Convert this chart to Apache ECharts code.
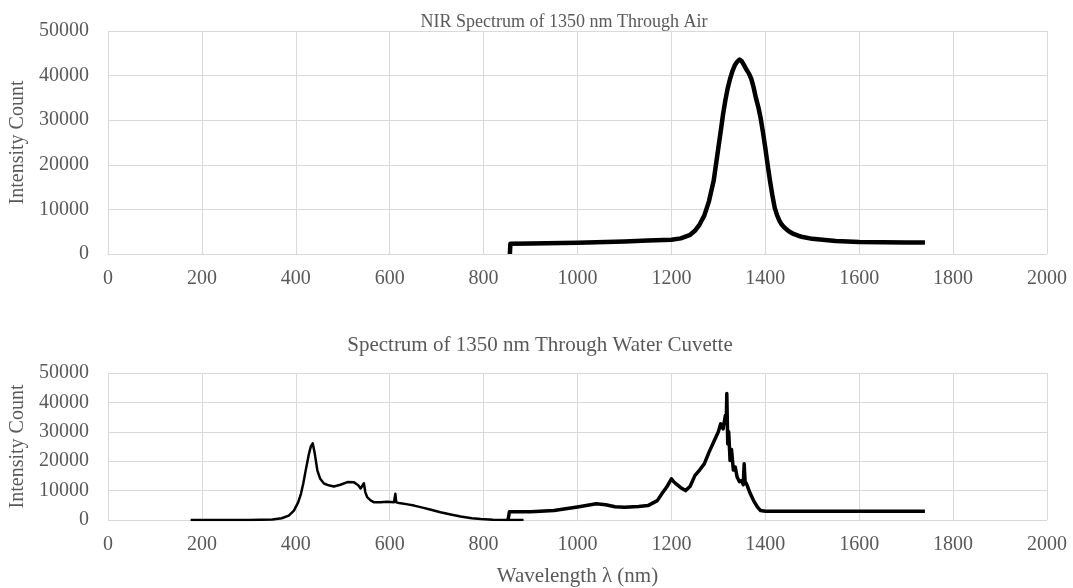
<!DOCTYPE html>
<html>
<head>
<meta charset="utf-8">
<script src="https://cdn.jsdelivr.net/npm/echarts@6/dist/echarts.min.js"></script>
<style>
html,body{margin:0;padding:0;background:#fff;}
#chart{width:1073px;height:588px;}
</style>
</head>
<body>
<div id="chart"></div>
<script>
// Top chart: NIR spectrum through air
var airWavelength = [856, 857, 900, 1000, 1100, 1150, 1200, 1220, 1240, 1250, 1260, 1270, 1280, 1290, 1300, 1305, 1310, 1315, 1320, 1325, 1330, 1335, 1340, 1345, 1350, 1355, 1360, 1365, 1370, 1375, 1380, 1385, 1390, 1395, 1400, 1405, 1410, 1415, 1420, 1425, 1430, 1435, 1440, 1450, 1460, 1470, 1480, 1500, 1550, 1600, 1650, 1700, 1740];
var airIntensity  = [0, 2300, 2350, 2500, 2800, 3000, 3200, 3500, 4300, 5200, 6600, 8600, 11800, 16400, 23800, 27500, 31300, 34500, 37200, 39300, 41000, 42300, 43100, 43600, 43200, 42300, 41300, 40500, 39300, 37400, 35000, 33000, 30500, 27300, 23800, 20000, 16400, 13200, 10400, 8700, 7500, 6600, 6000, 5100, 4500, 4100, 3800, 3400, 2900, 2700, 2650, 2600, 2600];

// Bottom chart: visible spectrometer portion
var visWavelength = [176, 250, 300, 350, 370, 385, 396, 405, 411, 416, 421, 428, 432, 436, 440, 446, 452, 460, 470, 481, 495, 510, 524, 533, 538, 545, 548, 552, 560, 567, 580, 595, 609, 612, 614, 620, 635, 652, 670, 690, 708, 730, 751, 775, 794, 820, 850, 885];
var visIntensity  = [0, 0, 0, 200, 600, 1500, 3200, 6000, 8900, 12500, 16800, 22500, 25000, 26100, 23000, 16800, 14000, 12400, 11800, 11400, 12000, 12900, 12800, 11800, 10700, 12500, 9500, 7800, 6600, 6000, 6000, 6200, 6000, 8900, 6000, 5800, 5400, 4900, 4200, 3400, 2650, 1900, 1200, 600, 300, 100, 0, 0];

// Bottom chart: NIR spectrometer portion
var nirWavelength = [852, 855, 900, 950, 1000, 1040, 1060, 1080, 1100, 1130, 1150, 1170, 1180, 1190, 1200, 1205, 1210, 1220, 1230, 1240, 1250, 1260, 1270, 1280, 1290, 1300, 1305, 1310, 1315, 1317, 1318, 1320, 1322, 1325, 1328, 1332, 1336, 1340, 1345, 1350, 1353, 1355, 1357, 1360, 1368, 1375, 1383, 1390, 1400, 1500, 1600, 1700, 1740];
var nirIntensity  = [0, 2800, 2800, 3200, 4400, 5500, 5200, 4500, 4300, 4600, 4900, 6600, 9000, 11200, 14000, 13000, 12300, 11000, 10000, 11500, 15100, 17000, 19100, 23000, 26500, 30000, 32700, 31000, 35500, 34000, 43000, 25900, 30000, 20200, 24000, 17000, 18000, 14600, 13000, 13400, 12000, 19100, 13000, 12300, 9000, 6600, 4500, 3200, 3000, 3000, 3000, 3000, 3000];

var xTicks = [0, 200, 400, 600, 800, 1000, 1200, 1400, 1600, 1800, 2000];
var yTicks = [0, 10000, 20000, 30000, 40000, 50000];

var topTitle = 'NIR Spectrum of 1350 nm Through Air';
var bottomTitle = 'Spectrum of 1350 nm Through Water Cuvette';
var xName = 'Wavelength λ (nm)';
var yName = 'Intensity Count';

function zip(a, b) { return a.map(function (v, i) { return [v, b[i]]; }); }

var FONT = '"Liberation Serif", "Times New Roman", serif';
var TXT = '#595959';
var GRIDC = '#d9d9d9';
var plain = function (v) { return String(v); };

function xAxis(idx, withName) {
  var ax = {
    type: 'value', gridIndex: idx, min: xTicks[0], max: xTicks[xTicks.length - 1], interval: 200,
    axisLine: { show: false }, axisTick: { show: false },
    axisLabel: { color: TXT, fontFamily: FONT, fontSize: 20, margin: 15, formatter: plain },
    splitLine: { show: true, lineStyle: { color: GRIDC, width: 1 } }
  };
  if (withName) {
    ax.name = xName; ax.nameLocation = 'middle'; ax.nameGap = 46;
    ax.nameTextStyle = { color: TXT, fontFamily: FONT, fontSize: 21 };
  }
  return ax;
}
function yAxis(idx) {
  return {
    type: 'value', gridIndex: idx, min: yTicks[0], max: yTicks[yTicks.length - 1], interval: 10000,
    axisLine: { show: false }, axisTick: { show: false },
    axisLabel: { color: TXT, fontFamily: FONT, fontSize: 20, margin: 19, formatter: plain },
    splitLine: { show: true, lineStyle: { color: GRIDC, width: 1 } },
    name: yName, nameLocation: 'middle', nameGap: 80, nameRotate: 90,
    nameTextStyle: { color: TXT, fontFamily: FONT, fontSize: 20 }
  };
}

var chart = echarts.init(document.getElementById('chart'), null, { renderer: 'canvas' });
chart.setOption({
  backgroundColor: '#fff',
  animation: false,
  title: [
    { text: topTitle, left: 559, top: 8, textAlign: 'center',
      textStyle: { color: TXT, fontFamily: FONT, fontSize: 18, fontWeight: 'normal' } },
    { text: bottomTitle, left: 535, top: 330, textAlign: 'center',
      textStyle: { color: TXT, fontFamily: FONT, fontSize: 21, fontWeight: 'normal' } }
  ],
  grid: [
    { left: 107, right: 26, top: 31, height: 223 },
    { left: 107, right: 26, top: 373, height: 147 }
  ],
  xAxis: [xAxis(0, false), xAxis(1, true)],
  yAxis: [yAxis(0), yAxis(1)],
  series: [
    { type: 'line', xAxisIndex: 0, yAxisIndex: 0, data: zip(airWavelength, airIntensity),
      showSymbol: false, lineStyle: { color: '#000', width: 4.5, join: 'round' }, itemStyle: { color: '#000' } },
    { type: 'line', xAxisIndex: 1, yAxisIndex: 1, data: zip(visWavelength, visIntensity),
      showSymbol: false, lineStyle: { color: '#000', width: 2.5, join: 'round' }, itemStyle: { color: '#000' } },
    { type: 'line', xAxisIndex: 1, yAxisIndex: 1, data: zip(nirWavelength, nirIntensity),
      showSymbol: false, lineStyle: { color: '#000', width: 3.5, join: 'round' }, itemStyle: { color: '#000' } }
  ]
});
</script>
</body>
</html>
